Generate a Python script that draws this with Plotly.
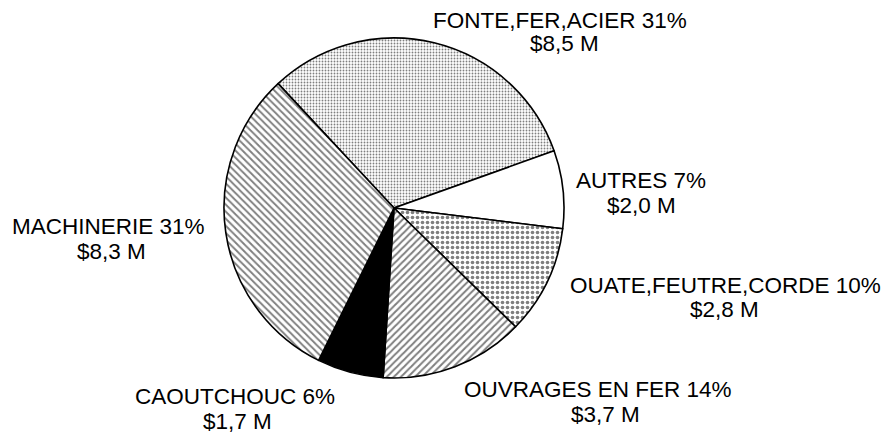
import plotly.graph_objects as go

# Répartition des importations (millions de dollars)
categories = ["FONTE,FER,ACIER", "AUTRES", "OUATE,FEUTRE,CORDE",
              "OUVRAGES EN FER", "CAOUTCHOUC", "MACHINERIE"]
values_musd = [8.5, 2.0, 2.8, 3.7, 1.7, 8.3]

# Hachures / trames de chaque secteur
shapes = [".", "", ".", "/", "", "\\"]
pattern_sizes = [3, 8, 5, 5, 8, 5]
pattern_solidity = [0.3, 0.2, 0.42, 0.4, 0.2, 0.38]
fills = ["white", "white", "white", "white", "black", "white"]

# Position (en pixels) du centre de chaque ligne d'étiquette : (x1, y1, x2, y2)
label_pos = [
    (560, 20.5, 564, 43),
    (641, 180.5, 641, 205.5),
    (725, 285, 724, 309.5),
    (598, 389.5, 605, 414.5),
    (235.5, 396.5, 237, 421),
    (108, 226, 111, 251),
]

W, H = 894, 433
CX, CY, R = 394, 208, 170

total = sum(values_musd)
pcts = [round(v / total * 100) for v in values_musd]

fig = go.Figure(go.Pie(
    labels=categories,
    values=values_musd,
    sort=False,
    direction="clockwise",
    rotation=-43,
    textinfo="none",
    hoverinfo="label+value+percent",
    marker=dict(
        colors=fills,
        line=dict(color="black", width=1.6),
        pattern=dict(
            shape=shapes,
            size=pattern_sizes,
            solidity=pattern_solidity,
            fgcolor="black",
            bgcolor=fills,
            fillmode="overlay",
        ),
    ),
    domain=dict(x=[(CX - R) / W, (CX + R) / W],
                y=[1 - (CY + R) / H, 1 - (CY - R) / H]),
    showlegend=False,
))

font = dict(family="Liberation Sans, Arial, sans-serif", size=22.5, color="black")
for name, v, p, (x1, y1, x2, y2) in zip(categories, values_musd, pcts, label_pos):
    line1 = f"{name} {p}%"
    line2 = "$" + f"{v:.1f}".replace(".", ",") + " M"
    for txt, x, y in ((line1, x1, y1), (line2, x2, y2)):
        fig.add_annotation(
            text=txt, x=x / W, y=1 - y / H, xref="paper", yref="paper",
            xanchor="center", yanchor="middle", showarrow=False, font=font,
        )

fig.update_layout(
    width=W, height=H,
    margin=dict(l=0, r=0, t=0, b=0),
    paper_bgcolor="white",
    plot_bgcolor="white",
)

fig.write_html("out.html")
